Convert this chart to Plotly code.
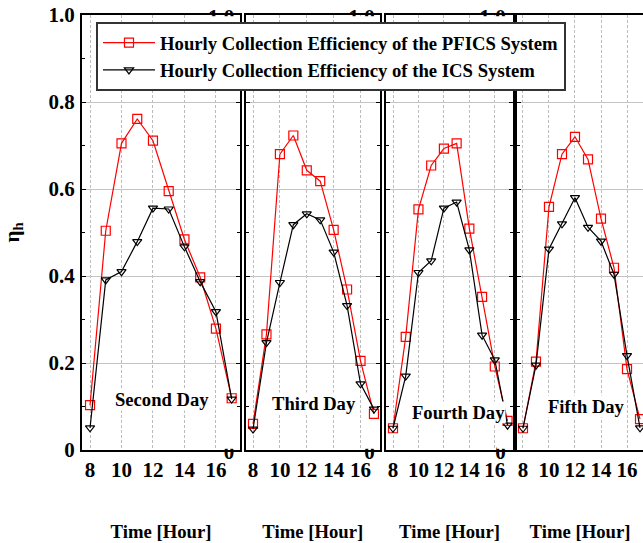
import plotly.graph_objects as go

# ---------------- data ----------------
hours = [8, 9, 10, 11, 12, 13, 14, 15, 16, 17]
day_names = ["Second Day", "Third Day", "Fourth Day", "Fifth Day"]

pfics_day2 = [0.103, 0.504, 0.705, 0.761, 0.711, 0.595, 0.484, 0.397, 0.279, 0.119]
ics_day2 = [0.051, 0.391, 0.410, 0.479, 0.556, 0.554, 0.467, 0.387, 0.318, 0.117]

pfics_day3 = [0.060, 0.266, 0.680, 0.723, 0.643, 0.618, 0.506, 0.369, 0.205, 0.083]
ics_day3 = [0.048, 0.247, 0.385, 0.518, 0.543, 0.529, 0.455, 0.332, 0.152, 0.094]

pfics_day4 = [0.050, 0.260, 0.553, 0.654, 0.693, 0.705, 0.509, 0.352, 0.192, 0.067]
ics_day4 = [0.050, 0.170, 0.408, 0.435, 0.556, 0.570, 0.460, 0.264, 0.207, 0.057]

pfics_day5 = [0.050, 0.203, 0.559, 0.680, 0.720, 0.668, 0.532, 0.419, 0.186, 0.071]
ics_day5 = [0.050, 0.195, 0.462, 0.520, 0.580, 0.512, 0.480, 0.404, 0.217, 0.051]

pfics_all = [pfics_day2, pfics_day3, pfics_day4, pfics_day5]
ics_all = [ics_day2, ics_day3, ics_day4, ics_day5]

x_ticks = [8, 10, 12, 14, 16]
y_ticks = [0, 0.2, 0.4, 0.6, 0.8, 1.0]
y_ticktext_first = ["0", "0.2", "0.4", "0.6", "0.8", "1.0"]
y_ticktext_other = ["0", "", "", "", "", "1.0"]

series_names = ["Hourly Collection Efficiency of the PFICS System",
                "Hourly Collection Efficiency of the ICS System"]

# ---------------- layout / style ----------------
W, H = 643, 543
FONT = "Liberation Serif"
panel_px = [(82, 240), (245.5, 380), (386, 513), (517, 643)]
x_ranges = [(7.49, 17.53), (7.44, 17.45), (7.45, 17.43), (7.54, 17.23)]
label_pos = [(12.57, 0.115), (12.54, 0.108), (13.12, 0.087), (12.92, 0.099)]
ylabel_standoff = [1, 5, 5, 5]
ylabel_shift = [0, 2, 2, 2]
TOP, BOTTOM = 15, 450
y_dom = ((H - BOTTOM) / H, (H - TOP) / H)

fig = go.Figure()

for i in range(4):
    xa = "x" if i == 0 else f"x{i+1}"
    ya = "y" if i == 0 else f"y{i+1}"
    fig.add_trace(go.Scatter(
        x=hours, y=pfics_all[i], mode="lines+markers", name=series_names[0],
        xaxis=xa, yaxis=ya, showlegend=(i == 0), legendrank=1,
        line=dict(color="#ff0000", width=1.2),
        marker=dict(symbol="square-open", size=9, color="#ff0000", line=dict(width=1.2)),
    ))
    fig.add_trace(go.Scatter(
        x=hours, y=ics_all[i], mode="lines+markers", name=series_names[1],
        xaxis=xa, yaxis=ya, showlegend=(i == 0), legendrank=2,
        line=dict(color="#000000", width=1.2),
        marker=dict(symbol="triangle-down-open", size=8, color="#000000", line=dict(width=1.2)),
    ))

layout = dict(
    width=W, height=H,
    margin=dict(l=0, r=0, t=0, b=0, pad=0, autoexpand=False),
    paper_bgcolor="white", plot_bgcolor="white",
    font=dict(family=FONT, size=18, color="black", weight="bold"),
    showlegend=True,
    legend=dict(
        x=96 / W, y=1 - 22 / H, xanchor="left", yanchor="top",
        bgcolor="white", bordercolor="#333333", borderwidth=2,
        font=dict(family=FONT, size=18.7, color="black", weight="bold"),
        traceorder="normal", itemwidth=52, tracegroupgap=0,
    ),
)

annotations = []
shapes = []
for i in range(4):
    sfx = "" if i == 0 else str(i + 1)
    x0, x1 = panel_px[i]
    layout["xaxis" + sfx] = dict(
        domain=[x0 / W, x1 / W], range=list(x_ranges[i]), anchor="y" + sfx,
        automargin=False,
        tickvals=x_ticks, ticks="", showline=True, linecolor="black", linewidth=2,
        mirror=True, showgrid=True, gridcolor="#bcbcbc", griddash="3px,2px", gridwidth=1,
        zeroline=False, tickfont=dict(family=FONT, size=21, weight="bold"),
        title=dict(text="Time [Hour]", standoff=44,
                   font=dict(family=FONT, size=18.7, weight="bold")),
    )
    layout["yaxis" + sfx] = dict(
        domain=list(y_dom), range=[0, 1], anchor="x" + sfx,
        automargin=False,
        tickvals=y_ticks, ticktext=(y_ticktext_first if i == 0 else y_ticktext_other),
        ticks="inside", ticklen=4, tickcolor="black",
        minor=dict(dtick=0.1, ticks="inside", ticklen=3, tickcolor="black", showgrid=False),
        showline=True, linecolor="black", linewidth=2,
        mirror=("ticks" if i < 3 else False),
        showgrid=True, gridcolor="#c4c4c4", gridwidth=1, zeroline=False,
        tickfont=dict(family=FONT, size=21, weight="bold"),
        ticklabelstandoff=ylabel_standoff[i], ticklabelshift=ylabel_shift[i],
    )
    annotations.append(dict(
        text=day_names[i], x=label_pos[i][0], y=label_pos[i][1],
        xref="x" + sfx, yref="y" + sfx, showarrow=False, bgcolor="white",
        font=dict(family=FONT, size=18.6, color="black", weight="bold"),
        borderpad=0,
    ))
    if i > 0:
        # the neighbouring panel hides the part of this panel's labels inside it
        prev_right = panel_px[i - 1][1]
        shapes.append(dict(
            type="rect", xref="paper", yref="paper", layer="above",
            x0=(prev_right - 32) / W, x1=(prev_right - 1.2) / W,
            y0=1 - (TOP + 1.2) / H, y1=1 - (TOP + 8) / H,
            fillcolor="white", line=dict(width=0),
        ))
        shapes.append(dict(
            type="rect", xref="paper", yref="paper", layer="above",
            x0=(prev_right - 16) / W, x1=(prev_right - 1.2) / W,
            y0=1 - (BOTTOM - 11) / H, y1=1 - (BOTTOM - 1.2) / H,
            fillcolor="white", line=dict(width=0),
        ))

layout["yaxis"]["title"] = dict(text="η<sub>h</sub>", standoff=28,
                                font=dict(family=FONT, size=21, weight="bold"))
layout["annotations"] = annotations
layout["shapes"] = shapes
fig.update_layout(**layout)

fig.write_html("out.html")
